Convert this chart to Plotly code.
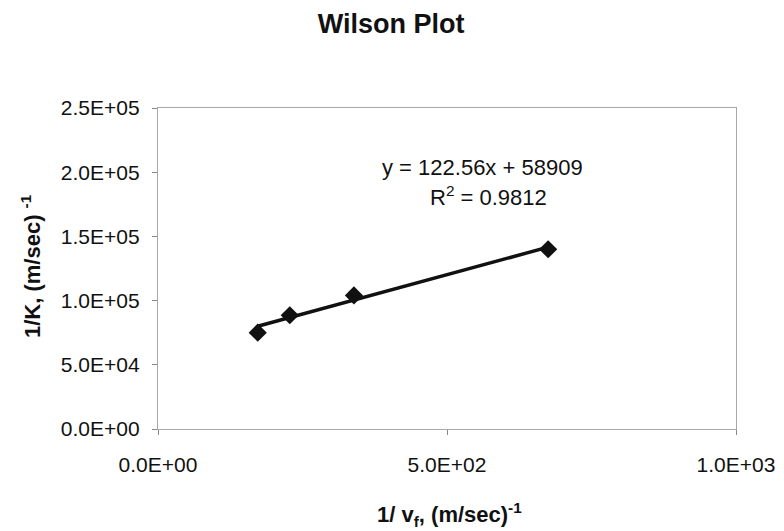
import plotly.graph_objects as go

# Data
inv_vf = [172.5, 228, 339, 675]          # 1/v_f, (m/sec)^-1
inv_K = [75000, 88600, 104000, 140000]   # 1/K, (m/sec)^-1

# Trendline reported on chart
slope = 122.56
intercept = 58909
r2 = 0.9812

x_ticks = [0, 500, 1000]
x_ticklabels = ["0.0E+00", "5.0E+02", "1.0E+03"]
y_ticks = [0, 50000, 100000, 150000, 200000, 250000]
y_ticklabels = ["0.0E+00", "5.0E+04", "1.0E+05", "1.5E+05", "2.0E+05", "2.5E+05"]

x_title = "<b>1/ v<sub>f</sub>, (m/sec)<sup>-1</sup></b>"
y_title = "<b>1/K, (m/sec) <sup>-1</sup></b>"

x_fit = [min(inv_vf), max(inv_vf)]
y_fit = [slope * v + intercept for v in x_fit]

font_family = "Liberation Sans, Arial, sans-serif"
ink = "#111111"

W, H = 784, 531
ML, MR, MT, MB = 158, 48, 108, 102
PW, PH = W - ML - MR, H - MT - MB

fig = go.Figure()
fig.add_trace(go.Scatter(x=x_fit, y=y_fit, mode="lines",
                         line=dict(color=ink, width=3.5),
                         showlegend=False, hoverinfo="skip"))
fig.add_trace(go.Scatter(x=inv_vf, y=inv_K, mode="markers",
                         marker=dict(symbol="diamond", size=14, color=ink),
                         showlegend=False))

fig.add_annotation(x=561, y=203900, xref="x", yref="y",
                   text=f"y = {slope}x + {intercept}", showarrow=False,
                   font=dict(family=font_family, size=22, color=ink))
fig.add_annotation(x=572, y=181500, xref="x", yref="y",
                   text=f"R<sup>2</sup> = {r2}", showarrow=False,
                   font=dict(family=font_family, size=22, color=ink))

# axis titles placed in paper coordinates
fig.add_annotation(x=(449 - ML) / PW, y=(H - MB - 514) / PH,
                   xref="paper", yref="paper", xanchor="center", yanchor="middle",
                   text=x_title, showarrow=False,
                   font=dict(family=font_family, size=22, color=ink))
fig.add_annotation(x=(31 - ML) / PW, y=(H - MB - 266) / PH,
                   xref="paper", yref="paper", xanchor="center", yanchor="middle",
                   text=y_title, showarrow=False, textangle=-90,
                   font=dict(family=font_family, size=22, color=ink))

fig.update_layout(
    width=W, height=H,
    margin=dict(l=ML, r=MR, t=MT, b=MB),
    paper_bgcolor="white", plot_bgcolor="white",
    title=dict(text="<b>Wilson Plot</b>", x=0.499, xanchor="center",
               y=1 - 24 / H, yanchor="middle",
               font=dict(family=font_family, size=27, color=ink)),
    font=dict(family=font_family, size=21, color=ink),
    xaxis=dict(range=[0, 1000], tickvals=x_ticks, ticktext=x_ticklabels,
               showgrid=False, zeroline=False, showline=True, mirror=True,
               linecolor="#a8a8a8", linewidth=1.2, ticks="outside",
               ticklen=5, tickcolor="#888888", ticklabelstandoff=12,
               tickfont=dict(size=21), automargin=False),
    yaxis=dict(range=[0, 250000], tickvals=y_ticks, ticktext=y_ticklabels,
               showgrid=False, zeroline=False, showline=True, mirror=True,
               linecolor="#a8a8a8", linewidth=1.2, ticks="outside",
               ticklen=5, tickcolor="#888888", ticklabelstandoff=8,
               tickfont=dict(size=21), automargin=False),
)

fig.write_html("out.html")
